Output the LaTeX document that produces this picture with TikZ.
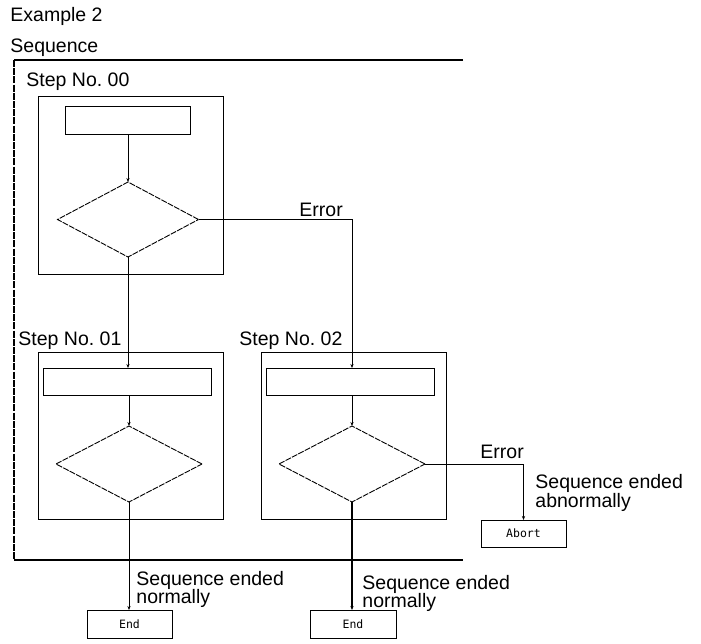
\documentclass[tikz,border=0pt]{standalone}
\usepackage{fontspec}
\setmainfont{Liberation Sans}
\newfontfamily\termfont{DejaVu Sans Mono}
\usetikzlibrary{shapes.geometric,arrows.meta}
\frenchspacing
\begin{document}
\begin{tikzpicture}[x=1pt,y=-1pt,
  line width=0.9pt,
  lbl/.style={font=\fontsize{19.5}{20}\selectfont, inner sep=0pt, anchor=base west},
  stepbox/.style={draw, rectangle, minimum width=185pt, inner sep=0pt, outer sep=0pt},
  procbox/.style={draw, rectangle, minimum height=27pt, inner sep=0pt, outer sep=0pt},
  decision/.style={draw, diamond, inner sep=0pt, outer sep=0pt, dash pattern=on 6pt off 1.2pt},
  termbox/.style={draw, rectangle, minimum width=85pt, minimum height=28pt, inner sep=0pt, outer sep=0pt, font=\termfont\fontsize{11.5}{12}\selectfont},
  arr/.style={-{Stealth[length=4pt,width=3.2pt]}}
]
\useasboundingbox (0,0) rectangle (701,643);

% titles
\node[lbl] (ex) at (10,21) {Example 2};
\node[lbl] (seq) at (10,52) {Sequence};

% sequence frame (open on the right)
\coordinate (ftr) at (463,60);
\coordinate (ftl) at (14,60);
\coordinate (fbl) at (14,560);
\coordinate (fbr) at (463,560);
\draw[line width=1.1pt] (ftr) -- (ftl);
\draw[line width=1.1pt, dash pattern=on 7pt off 1.2pt] (ftl) -- (fbl);
\draw[line width=1.1pt] (fbl) -- (fbr);

% step 00
\node[lbl] (t0) at (26,86) {Step No. 00};
\node[stepbox, minimum height=178pt] (s0) at (130.5,185) {};
\node[procbox, minimum width=125pt, minimum height=28pt] (r0) at (127.5,120) {};
\node[decision, minimum width=141pt, minimum height=75pt] (d0) at (128,219.5) {};

% step 01
\node[lbl] (t1) at (18,345) {Step No. 01};
\node[stepbox, minimum height=167pt] (s1) at (130.5,435.5) {};
\node[procbox, minimum width=168pt] (r1) at (127,381.5) {};
\node[decision, minimum width=146pt, minimum height=76pt] (d1) at (129,464) {};

% step 02
\node[lbl] (t2) at (239,345) {Step No. 02};
\node[stepbox, minimum height=167pt] (s2) at (353.5,435.5) {};
\node[procbox, minimum width=168pt] (r2) at (350,381.5) {};
\node[decision, minimum width=146pt, minimum height=76pt] (d2) at (352,464) {};

% terminals
\node[termbox] (end1) at (129.5,624) {End};
\node[termbox, minimum width=86pt] (end2) at (353,624) {End};
\node[termbox, minimum height=27pt] (abort) at (523.5,533.5) {Abort};

% labels
\node[lbl] (e0) at (299,216) {Error};
\node[lbl] (e2) at (480,458) {Error};
\node[lbl] (ab1) at (535,488) {Sequence ended};
\node[lbl] (ab2) at (535,507) {abnormally};
\node[lbl] (n1a) at (136,585) {Sequence ended};
\node[lbl] (n1b) at (136,603) {normally};
\node[lbl] (n2a) at (362,589) {Sequence ended};
\node[lbl] (n2b) at (362,607) {normally};

% connectors
\draw[arr] (d0.north |- r0.south) -- (d0.north);
\draw[arr] (d0.south) -- (d0.south |- r1.north);
\draw[arr] (d0.east) -| (d2.north |- r2.north);
\draw[arr] (d1.north |- r1.south) -- (d1.north);
\draw[arr] (d2.north |- r2.south) -- (d2.north);
\draw[arr] (d1.south) -- (d1.south |- end1.north);
\draw[arr, line width=1.6pt] (d2.south) -- (d2.south |- end2.north);
\draw[arr] (d2.east) -| (abort.north);
\end{tikzpicture}
\end{document}
